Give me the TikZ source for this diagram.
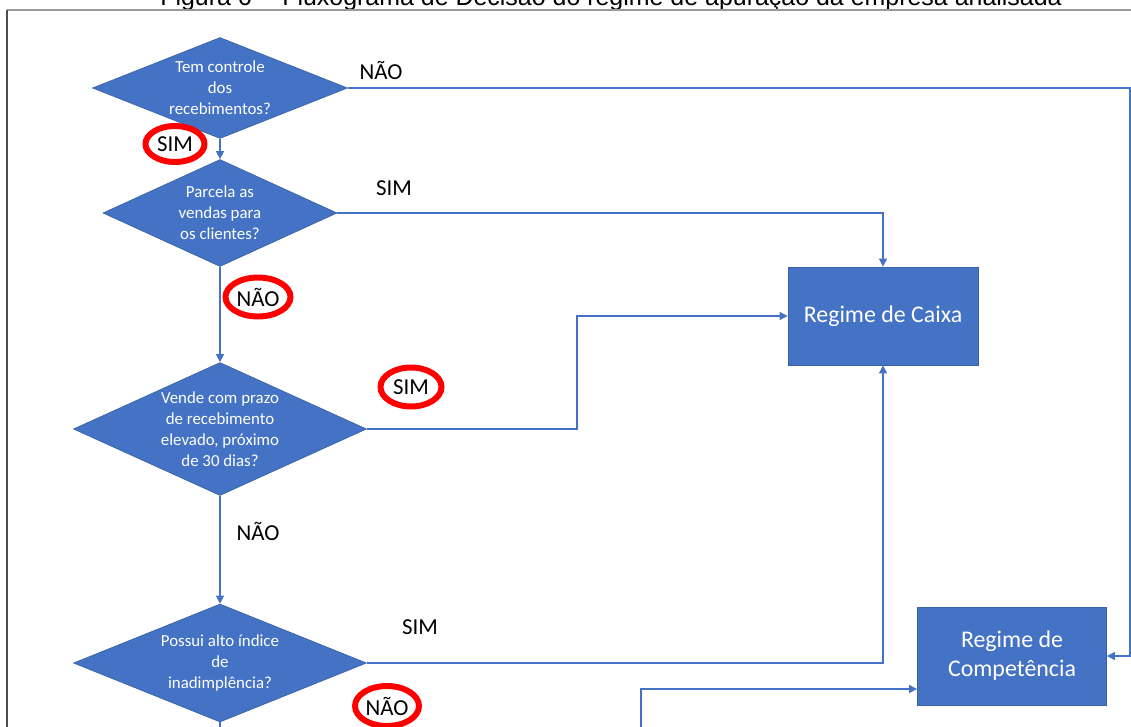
\documentclass[tikz,border=0pt]{standalone}
\usepackage{fontspec}
\setmainfont{Carlito}
\newfontfamily\titlefont{Liberation Sans}
\usetikzlibrary{positioning, shapes.geometric, arrows.meta}
\definecolor{azulOffice}{HTML}{4472C4}
\definecolor{bordaAzul}{HTML}{3A62A8}
\definecolor{vermelho}{HTML}{FF0000}

\begin{document}
\begin{tikzpicture}[
  x=0.02cm, y=-0.02cm,
  decisao/.style={diamond, fill=azulOffice, draw=bordaAzul, line width=0.4pt, inner sep=0pt},
  textoDec/.style={text=white, align=center, inner sep=0pt, font=\fontsize{9.6}{11.9}\selectfont},
  regime/.style={rectangle, fill=azulOffice, draw=bordaAzul, line width=0.5pt, text=white,
    align=center, inner sep=0pt, font=\fontsize{13.6}{16.4}\selectfont},
  rotulo/.style={font=\fontsize{13}{15}\selectfont, inner sep=0pt},
  marcado/.style={rotulo, ellipse, draw=vermelho, line width=3.4pt, fill=white},
  lig/.style={draw=azulOffice, line width=0.6pt},
  seta/.style={lig, -{Triangle[length=1.6mm, width=1.6mm]}}
]
  % Moldura da figura (tamanho da referência)
  \useasboundingbox (0,0) rectangle (1131,726);
  \fill[white] (0,0) rectangle (1131,726);
  \clip (0,0) rectangle (1131,726);

  % Título (cortado no topo)
  \node[anchor=base, font=\titlefont\fontsize{14.2}{17}\selectfont] (titulo) at (611,6)
    {Figura 6 -- Fluxograma de Decisão do regime de apuração da empresa analisada};
  \draw[black!40, line width=0.8pt] (7,10) -- (1140,10);
  \draw[black!70, line width=0.8pt] (7,10) -- (7,740);

  % --- Decisões ---
  \node[decisao, minimum width=5.10cm, minimum height=2.02cm,
    label={[textoDec]center:{Tem controle\\dos\\recebimentos?}}] (d1) at (220,88) {};
  \node[decisao, minimum width=4.68cm, minimum height=2.14cm,
    label={[textoDec]center:{Parcela as\\vendas para\\os clientes?}}] (d2) at (220,213) {};
  \node[decisao, minimum width=5.86cm, minimum height=2.66cm,
    label={[textoDec]center:{Vende com prazo\\de recebimento\\elevado, próximo\\de 30 dias?}}] (d3) at (220,429) {};
  \node[decisao, minimum width=5.86cm, minimum height=2.36cm,
    label={[textoDec]center:{Possui alto índice\\de\\inadimplência?}}] (d4) at (220,663) {};

  % --- Regimes ---
  \node[regime, minimum width=3.80cm, minimum height=1.96cm] (caixa) at (883,316) {Regime de Caixa};
  \node[regime, minimum width=3.78cm, minimum height=1.96cm] (comp) at (1012,656) {Regime de\\Competência};

  % Pontos de dobra das ligações
  \coordinate (dobraDir) at (1130,0);
  \coordinate (dobraMeio) at (577,0);
  \coordinate (base) at (220,740);
  \coordinate (retorno) at (641,740);

  % --- Ligações ---
  \draw[seta] (d1.south) -- (d2.north);
  \draw[seta] (d2.south) -- (d3.north);
  \draw[seta] (d3.south) -- (d4.north);
  \draw[lig] (d4.south) -- (base);
  \draw[seta] (d1.east) -- (d1.east -| dobraDir) |- (comp.east);
  \draw[seta] (d2.east) -| (caixa.north);
  \draw[seta] (d3.east) -- (d3.east -| dobraMeio) |- (caixa.west);
  \draw[seta] (d4.east) -| (caixa.south);
  \draw[seta] (retorno) |- ([yshift=-0.66cm]comp.west);

  % --- Respostas ---
  \node[rotulo] (n1) at (381,70) {NÃO};
  \node[marcado, minimum width=1.18cm, minimum height=0.72cm] (s1) at (175,144) {SIM};
  \node[rotulo] (s2) at (394,188) {SIM};
  \node[marcado, minimum width=1.30cm, minimum height=0.78cm] (n2) at (258,297) {NÃO};
  \node[marcado, minimum width=1.22cm, minimum height=0.78cm] (s3) at (411,387) {SIM};
  \node[rotulo] (n3) at (258,531) {NÃO};
  \node[rotulo] (s4) at (420,627) {SIM};
  \node[marcado, minimum width=1.28cm, minimum height=0.80cm] (n4) at (387,706) {NÃO};

\end{tikzpicture}
\end{document}
